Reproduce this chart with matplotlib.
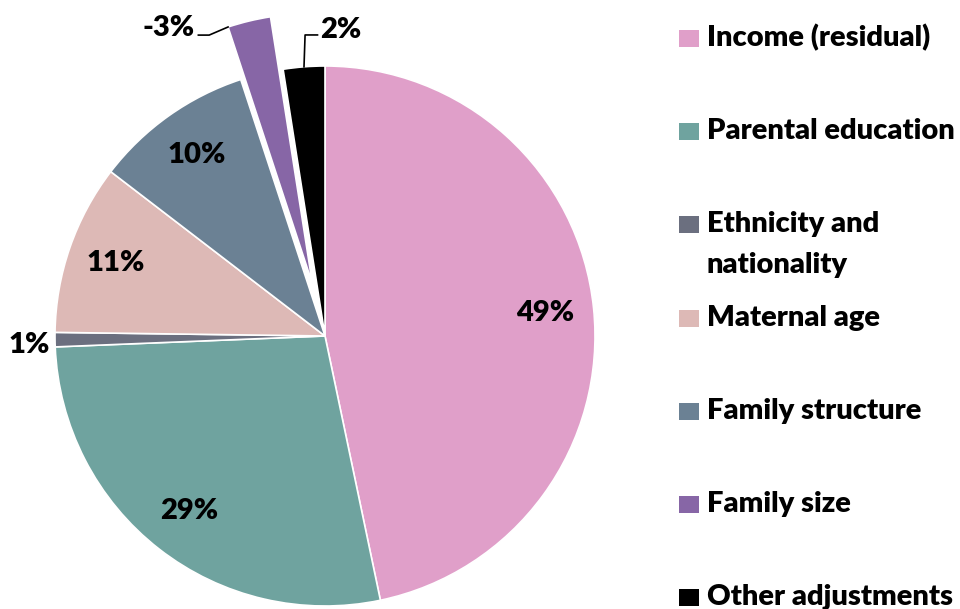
import matplotlib
matplotlib.use("Agg")
import matplotlib.pyplot as plt
from matplotlib.patches import Rectangle
import numpy as np

# data (slice sizes, printed labels as shown)
categories = ["Income (residual)", "Parental education", "Ethnicity and\nnationality",
              "Maternal age", "Family structure", "Family size", "Other adjustments"]
values = [49.0, 29.0, 0.9, 10.7, 10.0, -2.7, 2.6]
pct_labels = ["49%", "29%", "1%", "11%", "10%", "-3%", "2%"]
colors = ["#E09FC9", "#6FA39F", "#6B6F7F", "#DDB9B6", "#6B8194", "#8766A6", "#000000"]
explode = [0, 0, 0, 0, 0, 0.2, 0]

plt.rcParams["font.family"] = ["Lato", "DejaVu Sans"]
FS = 21
WT = "heavy"

fig = plt.figure(figsize=(9.6, 6.09), dpi=100)
ax = fig.add_axes([0, 0, 1, 1])

sizes = np.abs(values)
wedges, _ = ax.pie(sizes, colors=colors, explode=explode, startangle=90,
                   counterclock=False, radius=1,
                   wedgeprops=dict(edgecolor="white", linewidth=1.2))

# axes spans the whole figure, 270 px per data unit, pie centre at pixel (325, 336)
ax.set_xlim((0 - 325) / 270, (960 - 325) / 270)
ax.set_ylim((336 - 609) / 270, 336 / 270)
ax.set_aspect("equal")
ax.axis("off")

for i, w in enumerate(wedges):
    mid = np.deg2rad((w.theta1 + w.theta2) / 2)
    lab = pct_labels[i]
    if i in (0, 1, 3, 4):
        r = 0.82
        ax.text(r * np.cos(mid), r * np.sin(mid), lab, ha="center", va="center",
                fontsize=FS, fontweight=WT)
    elif i == 2:
        ax.text(1.02 * np.cos(mid), 1.02 * np.sin(mid) - 0.02, lab, ha="right",
                va="center", fontsize=FS, fontweight=WT)
    elif i == 5:
        cx, cy = w.center
        t = np.deg2rad(w.theta2)
        ax_, ay_ = cx + np.cos(t), cy + np.sin(t)
        ax.plot([ax_, ax_ - 0.07, ax_ - 0.11], [ay_, ay_ - 0.03, ay_ - 0.03],
                color="black", lw=1.2, clip_on=False)
        ax.text(ax_ - 0.125, ay_ - 0.005, lab, ha="right", va="center",
                fontsize=FS, fontweight=WT)
    else:
        px, py = np.cos(mid), np.sin(mid)
        ax.plot([px, px + 0.004, px + 0.05], [py, py + 0.118, py + 0.118],
                color="black", lw=1.2, clip_on=False)
        ax.text(px + 0.06, py + 0.135, lab, ha="left", va="center",
                fontsize=FS, fontweight=WT)

for w in wedges:
    w.set_clip_on(False)

# legend
W, H = 960.0, 609.0
y0, dy = 38, 93.2
for i, (name, c) in enumerate(zip(categories, colors)):
    yc = y0 + i * dy
    fig.add_artist(Rectangle((679 / W, 1 - (yc + 9) / H), 20 / W, 17 / H,
                             transform=fig.transFigure, facecolor=c, edgecolor="none"))
    for j, line in enumerate(name.split("\n")):
        fig.text(707 / W, 1 - (yc + j * 41) / H, line, ha="left", va="center",
                 fontsize=FS, fontweight=WT)

fig.savefig("out.png", dpi=100)
